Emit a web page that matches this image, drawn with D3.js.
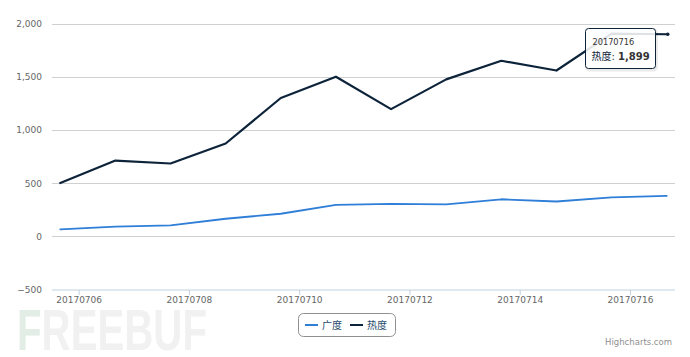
<!DOCTYPE html>
<html><head><meta charset="utf-8">
<script src="https://cdn.jsdelivr.net/npm/d3@7"></script>
<style>
html,body{margin:0;padding:0;background:#fff;}
svg{display:block;font-family:"DejaVu Sans","Noto Sans CJK SC",sans-serif;}
</style></head><body>
<svg id="chart" width="690" height="357"></svg>
<script>
// ---- data ----
const dates = ["20170705","20170706","20170707","20170708","20170709","20170710","20170711","20170712","20170713","20170714","20170715","20170716"];
const heatValues = [500, 712, 684, 872, 1300, 1500, 1195, 1475, 1650, 1558, 1905, 1899];   // 热度
const breadthValues = [66, 90, 103, 165, 212, 295, 305, 300, 348, 327, 365, 379];           // 广度
const xTickLabels = ["20170706","20170708","20170710","20170712","20170714","20170716"];
const yTickValues = [-500, 0, 500, 1000, 1500, 2000];
const seriesNames = ["广度","热度"];
const seriesColors = ["#2f7ed8","#0d233a"];

const parse = d3.utcParse("%Y%m%d");
const HOUR = 3600*1000, DAY = 24*HOUR;
// points are timestamps offset by 16h (UTC display of UTC+8 midnight)
const pointTimes = dates.map(d => new Date(parse(d).getTime() + 16*HOUR));
const pad = 0.15*DAY;

const svg = d3.select("#chart");
const L = 52, R = 675, T = 23.5, B = 289.5;

const x = d3.scaleUtc()
  .domain([new Date(pointTimes[0].getTime()-pad), new Date(pointTimes[pointTimes.length-1].getTime()+pad)])
  .range([L, R]);
const y = d3.scaleLinear().domain([-500, 2000]).range([B, T]);

// watermark
const wm = svg.append("g").attr("font-family","'Liberation Sans',Arial,sans-serif").attr("font-weight","bold");
wm.append("text").attr("x",17).attr("y",350).attr("font-size",58)
  .attr("textLength",190).attr("lengthAdjust","spacingAndGlyphs")
  .selectAll("tspan").data(["F","REEBUF"]).join("tspan")
  .attr("fill",(d,i)=> i===0 ? "#e1ede5" : "#f1f1f1").text(d=>d);

// gridlines
svg.append("g").selectAll("line").data(yTickValues.filter(v=>v>-500)).join("line")
  .attr("x1",L).attr("x2",R)
  .attr("y1",d=>Math.round(y(d))+0.5).attr("y2",d=>Math.round(y(d))+0.5)
  .attr("stroke","#d0d0d0").attr("stroke-width",1);

// y labels
svg.append("g").selectAll("text").data(yTickValues).join("text")
  .attr("x",42).attr("y",d=>y(d)+3.5).attr("text-anchor","end")
  .attr("font-size",9).attr("fill","#666").text(d=>d3.format(",")(d));

// x axis
const xAxis = d3.axisBottom(x)
  .tickValues(xTickLabels.map(parse))
  .tickFormat(d3.utcFormat("%Y%m%d"))
  .tickSize(5).tickSizeOuter(0).tickPadding(3);
const gx = svg.append("g").attr("transform",`translate(0,${B+0.5})`).call(xAxis);
gx.select(".domain").attr("stroke","#c0d0e0").attr("d",`M${L},0H${R}`);
gx.selectAll(".tick line").attr("stroke","#c0d0e0");
gx.selectAll(".tick text").attr("font-size",9).attr("fill","#666")
  .attr("font-family","'DejaVu Sans',sans-serif").attr("dy","0.55em");

// lines
const line = d3.line().x((d,i)=>x(pointTimes[i])).y(d=>y(d));
svg.append("path").datum(breadthValues).attr("d",line)
  .attr("fill","none").attr("stroke",seriesColors[0]).attr("stroke-width",1.8)
  .attr("stroke-linejoin","round").attr("stroke-linecap","round");
svg.append("path").datum(heatValues).attr("d",line)
  .attr("fill","none").attr("stroke",seriesColors[1]).attr("stroke-width",2.2)
  .attr("stroke-linejoin","round").attr("stroke-linecap","round");

// hover marker on last point
const li = heatValues.length-1;
svg.append("circle").attr("cx",x(pointTimes[li])+1).attr("cy",y(heatValues[li]))
  .attr("r",1.8).attr("fill",seriesColors[1]);

// tooltip
const tip = svg.append("g");
const tx = 585.5, ty = 28.5, tw = 70, th = 40;
tip.append("rect").attr("x",tx+1).attr("y",ty+1.5).attr("width",tw).attr("height",th).attr("rx",3)
  .attr("fill","none").attr("stroke","rgba(0,0,0,0.08)").attr("stroke-width",3);
tip.append("rect").attr("x",tx).attr("y",ty).attr("width",tw).attr("height",th).attr("rx",3)
  .attr("fill","rgba(255,255,255,0.87)").attr("stroke",seriesColors[1]).attr("stroke-width",1);
tip.append("text").attr("x",tx+7).attr("y",ty+16).attr("font-size",8.2).attr("fill","#333")
  .text(dates[li]);
const t2 = tip.append("text").attr("x",tx+6).attr("y",ty+31).attr("font-size",10).attr("fill","#333");
t2.append("tspan").attr("fill",seriesColors[1]).text(seriesNames[1]);
t2.append("tspan").text(": ");
t2.append("tspan").attr("font-weight","bold").text(d3.format(",")(heatValues[li]));

// legend
const lg = svg.append("g");
lg.append("rect").attr("x",298.5).attr("y",313.5).attr("width",97).attr("height",23).attr("rx",5)
  .attr("fill","#fff").attr("stroke","#909090").attr("stroke-width",1);
const items = [{x:305, name:seriesNames[0], color:seriesColors[0]},{x:350, name:seriesNames[1], color:seriesColors[1]}];
items.forEach(it=>{
  lg.append("line").attr("x1",it.x).attr("x2",it.x+13).attr("y1",325).attr("y2",325)
    .attr("stroke",it.color).attr("stroke-width",2);
  lg.append("text").attr("x",it.x+17).attr("y",329).attr("font-size",10).attr("fill","#274b6d").text(it.name);
});

// credits
svg.append("text").attr("x",672).attr("y",345).attr("text-anchor","end")
  .attr("font-size",8.5).attr("fill","#909090").text("Highcharts.com");
</script>
</body></html>
